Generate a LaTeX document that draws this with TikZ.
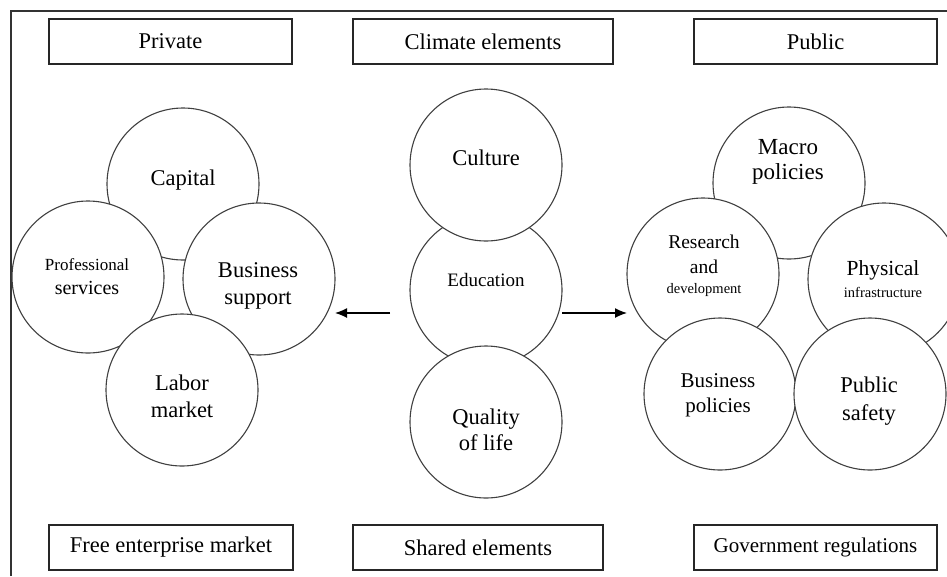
\documentclass[tikz,border=0pt]{standalone}
\usepackage{fontspec}
\setmainfont{Liberation Serif}
\usetikzlibrary{arrows.meta}
\newcommand{\fs}[2]{\fontsize{#1}{#2}\selectfont}
\begin{document}
\begin{tikzpicture}[x=1pt,y=-1pt,
  framebox/.style={draw=black!85,line width=1.3pt,minimum height=45pt,inner sep=0pt,font=\fs{22.5}{27}},
  disc/.style={circle,draw=black!75,line width=1.1pt,fill=white,minimum size=152pt,inner sep=0pt},
  lbl/.style={align=center,inner sep=0pt,font=\fs{22.5}{27}},
  arr/.style={-{Latex[length=12pt,width=10pt]},line width=1.3pt}]
\useasboundingbox (0,0) rectangle (947,576);
\clip (0,0) rectangle (947,576);
% outer frame (top and left)
\coordinate (fb) at (11,576);
\coordinate (fc) at (11,11);
\coordinate (fr) at (947,11);
\draw[line width=2.4pt,draw=black!80] (fb) -- (fc) -- (fr);
% header and footer boxes
\node[framebox,minimum width=243pt] (priv) at (170.5,41.5) {Private};
\node[framebox,minimum width=260pt] (clim) at (483,41.5) {Climate elements};
\node[framebox,minimum width=243pt] (pub) at (815.5,41.5) {Public};
\node[framebox,minimum width=244pt] (free) at (171,547.5) {Free enterprise market};
\node[framebox,minimum width=250pt] (shared) at (478,547.5) {Shared elements};
\node[framebox,minimum width=243pt,font=\fs{21}{25}] (gov) at (815.5,547.5) {Government regulations};
% left group
\node[disc] (cap) at (183,184) {};
\node[disc] (prof) at (88,277) {};
\node[disc] (bsup) at (259,279) {};
\node[disc] (lab) at (182,390) {};
\node[lbl] (tcap) at (183,180) {Capital};
\node[lbl] (tprof1) at (87,265) {\fs{17}{20}Professional};
\node[lbl] (tprof2) at (87,288) {\fs{20}{23}services};
\node[lbl] (tbsup) at (258,286) {Business\\support};
\node[lbl] (tlab) at (182,396) {Labor\\market};
% middle group
\node[disc] (edu) at (486,290) {};
\node[disc] (cul) at (486,165) {};
\node[disc] (qol) at (486,422) {};
\node[lbl] (tcul) at (486,158) {Culture};
\node[lbl,font=\fs{19}{22}] (tedu) at (486,280) {Education};
\node[lbl,font=\fs{22.5}{26}] (tqol) at (486,430) {Quality\\of life};
% right group
\node[disc] (mac) at (789,183) {};
\node[disc] (rd) at (703,274) {};
\node[disc] (phy) at (884,279) {};
\node[disc] (bpol) at (720,394) {};
\node[disc] (psaf) at (870,394) {};
\node[lbl,font=\fs{23}{25}] (tmac) at (788,162) {Macro\\policies};
\node[lbl,font=\fs{19.5}{25}] (trd1) at (704,254) {Research\\and};
\node[lbl,font=\fs{14.5}{17}] (trd2) at (704,290) {development};
\node[lbl,font=\fs{21.5}{24}] (tphy1) at (883,270) {Physical};
\node[lbl,font=\fs{14.5}{17}] (tphy2) at (883,292) {infrastructure};
\node[lbl,font=\fs{21}{25}] (tbpol) at (718,395) {Business\\policies};
\node[lbl,font=\fs{22.5}{28}] (tpsaf) at (869,401) {Public\\safety};
% arrows
\coordinate (la) at (390,313);
\coordinate (lb) at (335,313);
\coordinate (ra) at (562,313);
\coordinate (rb) at (627,313);
\draw[arr] (la) -- (lb);
\draw[arr] (ra) -- (rb);
\end{tikzpicture}
\end{document}
